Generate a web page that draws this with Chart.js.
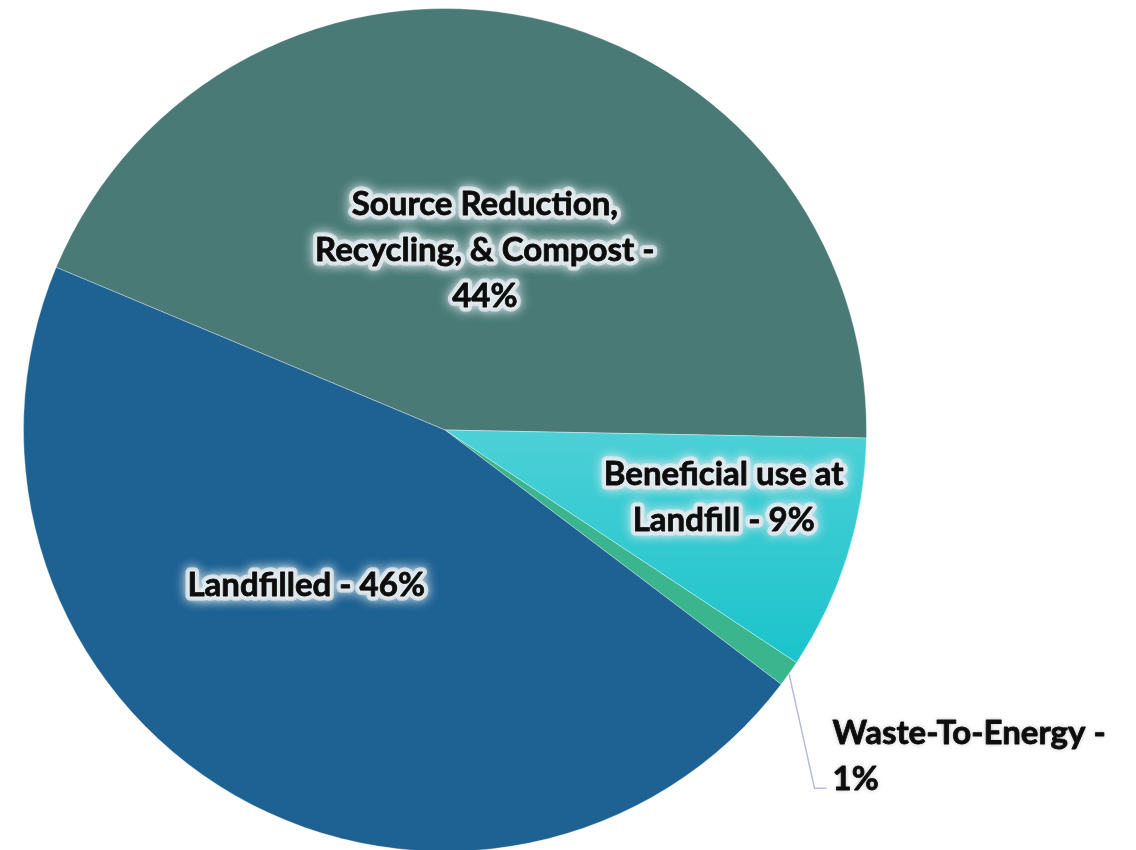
<!DOCTYPE html>
<html>
<head>
<meta charset="utf-8">
<script src="https://cdn.jsdelivr.net/npm/chart.js@4/dist/chart.umd.min.js"></script>
<style>
  html, body { margin: 0; padding: 0; background: #fff; overflow: hidden; }
  #wrap { width: 1136px; height: 850px; overflow: hidden; }
</style>
</head>
<body>
<div id="wrap"><canvas id="pie" width="1136" height="860"></canvas></div>
<script>
var categories = [
    'Source Reduction, Recycling, & Compost',
    'Beneficial use at Landfill',
    'Waste-To-Energy',
    'Landfilled'
];
var shares = [44, 9, 1, 46];
var labelLines = [
    ['Source Reduction,', 'Recycling, & Compost -', '44%'],
    ['Beneficial use at', 'Landfill - 9%'],
    ['Waste-To-Energy -', '1%'],
    ['Landfilled - 46%']
];
var sliceColors = ['#4a7a76', 'cyan-gradient', '#3bb58e', '#1e6193'];

// where each label sits: angle shift from mid-slice (deg), distance as share of radius
var labelPlace = [
    { shift: 0.6, frac: 0.437, align: 'center' },
    { shift: -3.8, frac: 0.68, align: 'center' },
    { shift: 4.8, frac: 1.202, align: 'left', leader: true },
    { shift: 11.8, frac: 0.495, align: 'center' }
];

function sliceFill(context) {
    var c = sliceColors[context.dataIndex];
    if (c !== 'cyan-gradient') {
        return c;
    }
    var g = context.chart.ctx.createLinearGradient(0, 430, 0, 670);
    g.addColorStop(0, '#4dd0d7');
    g.addColorStop(1, '#19c3cb');
    return g;
}

var labelPlugin = {
    id: 'sliceLabels',
    afterDatasetsDraw: function (chart) {
        var ctx = chart.ctx;
        var meta = chart.getDatasetMeta(0);
        ctx.save();
        ctx.font = 'bold 33px Lato, "Open Sans", sans-serif';
        ctx.textBaseline = 'middle';
        ctx.lineJoin = 'round';
        var lineH = 46;
        meta.data.forEach(function (arc, i) {
            var p = labelPlace[i];
            var mid = (arc.startAngle + arc.endAngle) / 2;
            var r = arc.outerRadius;
            var a = mid + p.shift * Math.PI / 180;
            var x = arc.x + Math.cos(a) * r * p.frac;
            var y = arc.y + Math.sin(a) * r * p.frac;
            var lines = labelLines[i];
            var top = y - (lines.length - 1) * lineH / 2;

            if (p.leader) {
                var ex = arc.x + Math.cos(mid) * r;
                var ey = arc.y + Math.sin(mid) * r;
                ctx.beginPath();
                ctx.strokeStyle = '#b4bcdc';
                ctx.lineWidth = 1.5;
                ctx.moveTo(ex, ey);
                ctx.lineTo(x - 18, top + lineH + 9);
                ctx.lineTo(x - 6, top + lineH + 9);
                ctx.stroke();
            }

            ctx.textAlign = p.align;
            lines.forEach(function (txt, k) {
                var ly = top + k * lineH;
                if (!p.leader) {
                    // soft light halo
                    ctx.shadowColor = 'rgba(226,234,238,1)';
                    ctx.shadowBlur = 12;
                    ctx.strokeStyle = 'rgba(226,234,238,0.55)';
                    ctx.lineWidth = 9;
                    ctx.strokeText(txt, x, ly);
                    ctx.strokeText(txt, x, ly);
                    ctx.shadowBlur = 5;
                    ctx.lineWidth = 5;
                    ctx.strokeStyle = 'rgba(226,234,238,0.8)';
                    ctx.strokeText(txt, x, ly);
                    ctx.shadowBlur = 0;
                } else {
                    ctx.shadowColor = 'rgba(0,0,0,0.3)';
                    ctx.shadowBlur = 4;
                }
                ctx.fillStyle = '#0d0d0d';
                ctx.strokeStyle = '#0d0d0d';
                ctx.lineWidth = 0.8;
                ctx.fillText(txt, x, ly);
                ctx.shadowBlur = 0;
                ctx.strokeText(txt, x, ly);
            });
        });
        ctx.restore();
    }
};

new Chart(document.getElementById('pie'), {
    type: 'pie',
    data: {
        labels: categories,
        datasets: [{
            data: shares,
            backgroundColor: sliceFill,
            borderColor: 'rgba(255,255,255,0.35)',
            borderWidth: 1
        }]
    },
    options: {
        responsive: false,
        animation: false,
        devicePixelRatio: 1,
        rotation: -67.3,
        layout: { padding: { left: 23, right: 269, top: 8, bottom: 8 } },
        plugins: {
            legend: { display: false },
            tooltip: { enabled: false }
        }
    },
    plugins: [labelPlugin]
});
</script>
</body>
</html>
